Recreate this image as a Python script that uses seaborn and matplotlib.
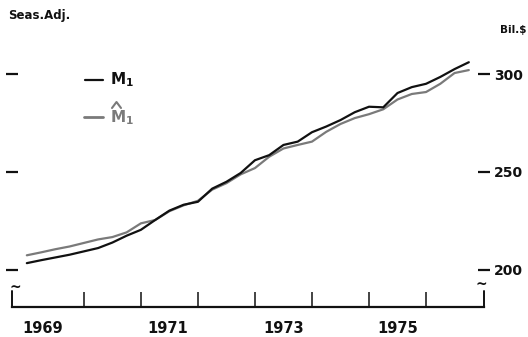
import matplotlib
matplotlib.use("Agg")
import matplotlib.pyplot as plt
from matplotlib.lines import Line2D
import seaborn as sns
import pandas as pd

# Quarterly observations, 1969 Q1 through 1976 Q4 (billions of dollars, seasonally adjusted)
quarters = [1969.00, 1969.25, 1969.50, 1969.75,
            1970.00, 1970.25, 1970.50, 1970.75,
            1971.00, 1971.25, 1971.50, 1971.75,
            1972.00, 1972.25, 1972.50, 1972.75,
            1973.00, 1973.25, 1973.50, 1973.75,
            1974.00, 1974.25, 1974.50, 1974.75,
            1975.00, 1975.25, 1975.50, 1975.75,
            1976.00, 1976.25, 1976.50, 1976.75]

m1_actual = [203.5, 205.0, 206.4, 207.8,
             209.5, 211.2, 214.0, 217.5,
             220.5, 225.5, 230.3, 233.3,
             234.8, 241.5, 245.0, 249.5,
             256.0, 258.6, 263.8, 265.5,
             270.3, 273.2, 276.5, 280.5,
             283.3, 283.0, 290.3, 293.3,
             295.0, 298.5, 302.5, 306.0]

m1_fitted = [207.5, 209.0, 210.6, 212.0,
             213.8, 215.6, 216.8, 219.2,
             223.8, 225.5, 230.0, 233.0,
             235.3, 241.0, 244.3, 248.8,
             252.0, 257.8, 262.0, 263.8,
             265.5, 270.5, 274.5, 277.5,
             279.5, 282.0, 287.0, 289.8,
             290.8, 295.0, 300.5, 302.0]

year_labels = ["1969", "1971", "1973", "1975"]
year_label_pos = [1969.27, 1971.47, 1973.51, 1975.51]
year_ticks = [1970, 1971, 1972, 1973, 1974, 1975, 1976]
value_ticks = [200, 250, 300]

W, H = 528, 337
sns.set_theme(style="white")
plt.rcParams["font.family"] = ["DejaVu Sans"]

fig = plt.figure(figsize=(W / 100, H / 100), dpi=100)
fig.patch.set_facecolor("white")


def fx(px):
    return px / W


def fy(py):
    return 1 - py / H


ax_left, ax_right, ax_top, ax_bottom = 12, 484, 20, 307
ax = fig.add_axes([fx(ax_left), fy(ax_bottom), (ax_right - ax_left) / W, (ax_bottom - ax_top) / H])
ax.set_facecolor("none")

df = pd.DataFrame({"t": quarters, "actual": m1_actual, "fitted": m1_fitted})
sns.lineplot(data=df, x="t", y="fitted", ax=ax, color="#7a7a7a", linewidth=1.6)
sns.lineplot(data=df, x="t", y="actual", ax=ax, color="#111111", linewidth=1.6)

px_per_year = 57.03
xmin = 1968.74
ax.set_xlim(xmin, xmin + (ax_right - ax_left) / px_per_year)
px_per_unit = 1.96
ax.set_ylim(200 - (ax_bottom - 270) / px_per_unit, 200 + (270 - ax_top) / px_per_unit)

for s in ["top", "left", "right"]:
    ax.spines[s].set_visible(False)
ax.spines["bottom"].set_color("#111111")
ax.spines["bottom"].set_linewidth(1.6)

ax.set_xticks(year_ticks)
ax.set_xticklabels([])
ax.tick_params(axis="x", direction="in", length=11, width=1.1, color="#111111", bottom=True)
ax.set_xlabel("")
ax.set_ylabel("")

ax.set_yticks(value_ticks)
ax.tick_params(axis="y", direction="inout", length=8, width=1.6, color="#111111",
               left=True, right=True, labelleft=False, labelright=True, pad=3,
               labelsize=10)
for lab in ax.get_yticklabels():
    lab.set_fontweight("bold")
    lab.set_color("#111111")

# axis end pieces with break marks
for xe in ax.get_xlim():
    ax.plot([xe, xe], [ax.get_ylim()[0], ax.get_ylim()[0] + 16 / px_per_unit],
            color="#111111", linewidth=1.4, clip_on=False)
fig.text(fx(15), fy(288), "~", fontsize=10, fontweight="bold", ha="center", va="center", color="#111111")
fig.text(fx(481), fy(285), "~", fontsize=10, fontweight="bold", ha="center", va="center", color="#111111")

for lab, pos in zip(year_labels, year_label_pos):
    ax.text(pos, -0.075, lab, transform=ax.get_xaxis_transform(), ha="center", va="center",
            fontsize=10.5, fontweight="bold", color="#111111")

fig.text(fx(8), fy(16), "Seas.Adj.", fontsize=8.5, fontweight="bold", ha="left", va="center", color="#111111")
fig.text(fx(500), fy(30), "Bil.$", fontsize=7.5, fontweight="bold", ha="left", va="center", color="#111111")

# legend
fig.add_artist(Line2D([fx(85), fx(103)], [fy(80), fy(80)], color="#111111", linewidth=1.6))
fig.add_artist(Line2D([fx(84), fx(103)], [fy(117), fy(117)], color="#7a7a7a", linewidth=2.0))
fig.text(fx(110), fy(80), r"$\mathbf{M}_\mathbf{1}$", fontsize=11, ha="left", va="center", color="#111111")
fig.text(fx(110), fy(118), r"$\mathbf{M}_\mathbf{1}$", fontsize=11, ha="left", va="center", color="#7a7a7a")
# hat over the fitted-series symbol
fig.add_artist(Line2D([fx(112), fx(116.5), fx(121)], [fy(108), fy(102), fy(108)],
                      color="#7a7a7a", linewidth=1.5))

fig.savefig("out.png", dpi=100, facecolor="white")
